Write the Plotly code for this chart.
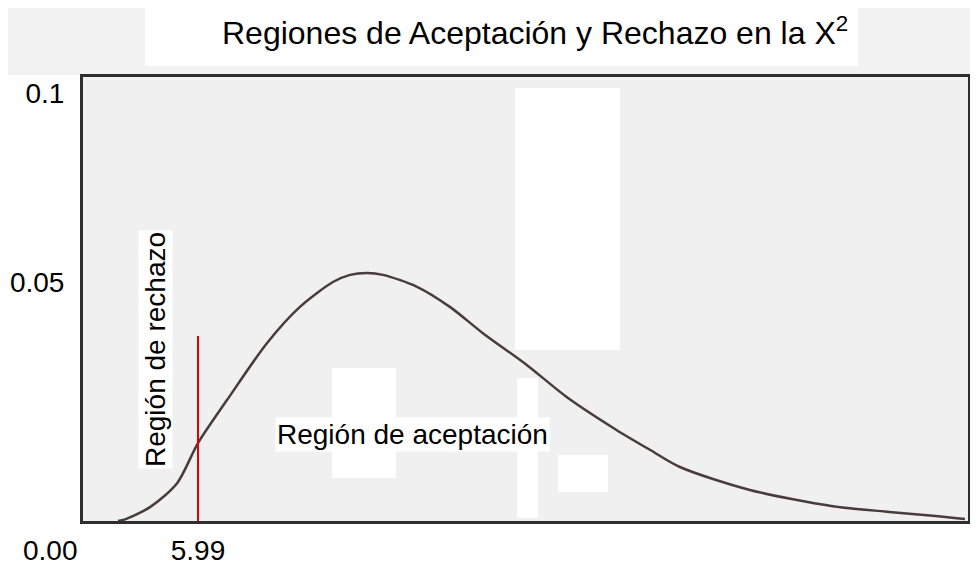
import plotly.graph_objects as go

# curve
curve_x = [1.82, 2.08, 3.49, 4.90, 5.99, 7.50, 9.58, 11.30, 13.02, 13.91, 14.79, 15.63,
           17.40, 19.11, 20.83, 23.13, 25.21, 27.81, 29.53, 31.09, 34.74, 39.06, 42.0, 44.27, 45.94]
curve_y = [0.0, 0.0002, 0.0029, 0.0079, 0.0163, 0.0253, 0.0372, 0.0448, 0.0500, 0.0515, 0.0519, 0.0515,
           0.0490, 0.0448, 0.0393, 0.0326, 0.0259, 0.0190, 0.0149, 0.0113, 0.0065, 0.0031, 0.0019, 0.0011, 0.0004]

critical_x = [5.99, 5.99]
critical_y = [0.0, 0.0387]

xtick_vals = [5.99]
xtick_text = ["5.99"]
ytick_vals = [0.05, 0.0896]
ytick_text = ["0.05", "0.1"]

FONT = "Liberation Sans, Arial, sans-serif"

fig = go.Figure()

fig.add_trace(go.Scatter(x=curve_x, y=curve_y, mode="lines",
                         line=dict(color="#4a3b3c", width=2.5, shape="spline", smoothing=0.8),
                         showlegend=False))
fig.add_trace(go.Scatter(x=critical_x, y=critical_y, mode="lines",
                         line=dict(color="#e00000", width=2),
                         showlegend=False))


def px_rect(x0, y0, x1, y1, color):
    # page pixels -> paper coordinates (plot area spans x 83..968, y 77..521)
    fig.add_shape(type="rect", xref="paper", yref="paper", layer="below",
                  x0=(x0 - 83) / 885, x1=(x1 - 83) / 885,
                  y0=(521 - y1) / 444, y1=(521 - y0) / 444,
                  fillcolor=color, line_width=0)


# background patches of the original image
px_rect(0, 0, 978, 75, "#f2f2f2")
px_rect(145, 7, 858, 66, "white")
px_rect(515, 88, 620, 350, "white")
px_rect(332, 368, 396, 478, "white")
px_rect(517, 378, 538, 518, "white")
px_rect(558, 455, 608, 492, "white")

fig.add_annotation(text="Regiones de Aceptación y Rechazo en la X<sup>2</sup>",
                   xref="paper", yref="paper", x=(535 - 83) / 885, y=(521 - 31) / 444,
                   xanchor="center", yanchor="middle", showarrow=False,
                   font=dict(family=FONT, size=32, color="black"))
fig.add_annotation(text="Región de rechazo", textangle=-90,
                   xref="paper", yref="paper", x=(155 - 83) / 885, y=(521 - 350) / 444,
                   xanchor="center", yanchor="middle", showarrow=False, bgcolor="white",
                   font=dict(family=FONT, size=28, color="black"))
fig.add_annotation(text="Región de aceptación",
                   xref="paper", yref="paper", x=(412 - 83) / 885, y=(521 - 434) / 444,
                   xanchor="center", yanchor="middle", showarrow=False, bgcolor="white",
                   font=dict(family=FONT, size=28, color="black"))
fig.add_annotation(text="0.00",
                   xref="paper", yref="paper", x=(50 - 83) / 885, y=-(550 - 521) / 444,
                   xanchor="center", yanchor="middle", showarrow=False,
                   font=dict(family=FONT, size=28, color="black"))

fig.update_layout(
    width=970, height=560,
    margin=dict(l=75, r=10, t=69, b=47),
    paper_bgcolor="white",
    plot_bgcolor="#f0f0f0",
    font=dict(family=FONT, size=28, color="black"),
    xaxis=dict(range=[0, 46.1], tickmode="array", tickvals=xtick_vals, ticktext=xtick_text,
               showgrid=False, zeroline=False, showline=True, mirror=True, automargin=False,
               linecolor="#2e2e2e", linewidth=3, ticks="", ticklabelstandoff=2),
    yaxis=dict(range=[0, 0.0929], tickmode="array", tickvals=ytick_vals, ticktext=ytick_text,
               showgrid=False, zeroline=False, showline=True, mirror=True, automargin=False,
               linecolor="#2e2e2e", linewidth=3, ticks="", ticklabelstandoff=10),
)

fig.write_html("out.html")
